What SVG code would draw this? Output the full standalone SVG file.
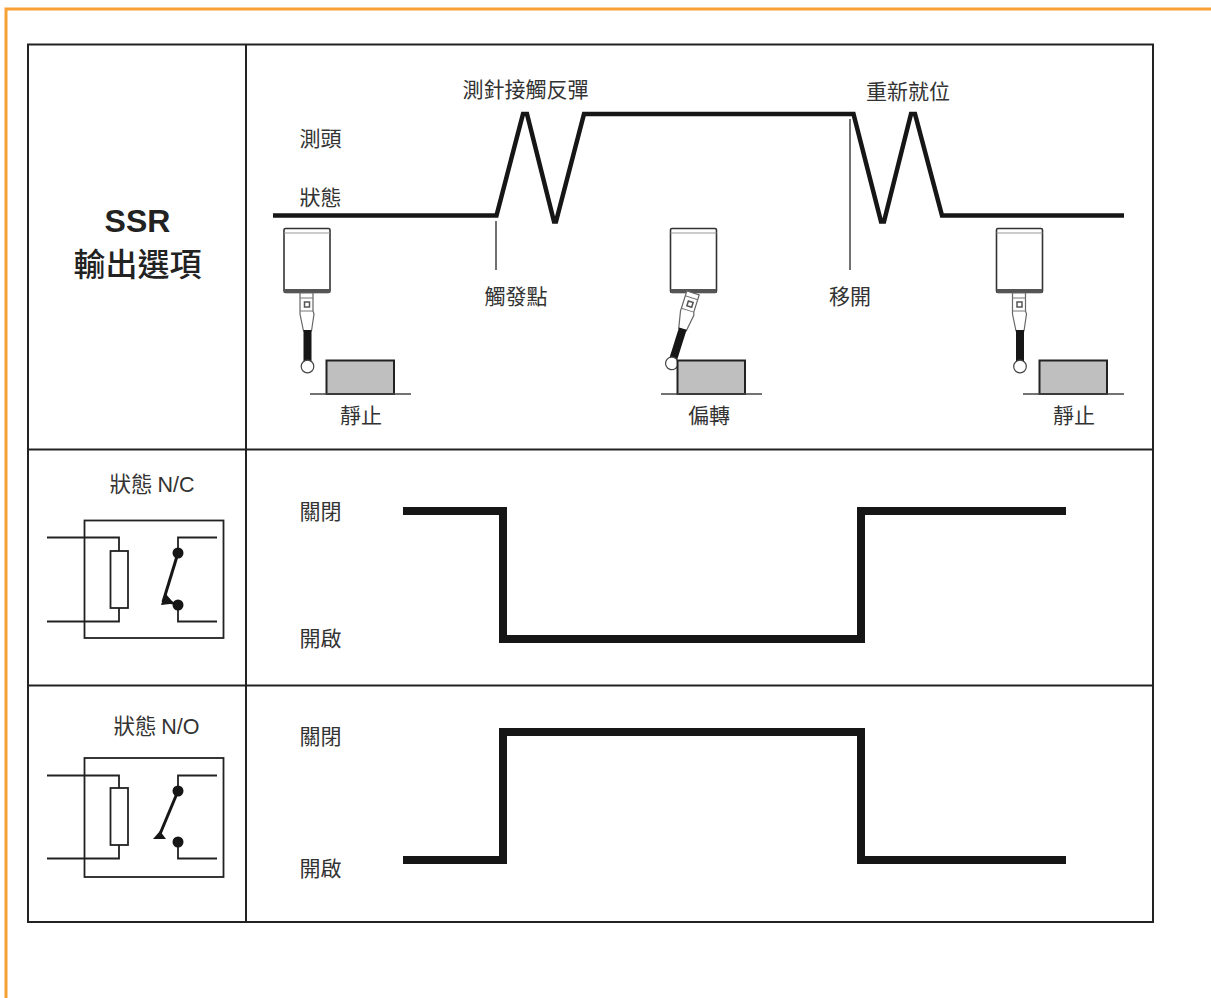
<svg xmlns="http://www.w3.org/2000/svg" width="1211" height="998" viewBox="0 0 1211 998">
<style>
text{font-family:"Noto Sans CJK TC","Liberation Sans",sans-serif;font-size:21px;fill:#333;text-anchor:middle}
.lat{font-family:"Liberation Sans","Noto Sans CJK TC",sans-serif}
.grid{fill:none;stroke:#222;stroke-width:2}
.wave{fill:none;stroke:#161616;stroke-linejoin:miter}
.thin{fill:none;stroke:#444;stroke-width:1.5}
.rel{fill:none;stroke:#222;stroke-width:1.8}
.dot{fill:#161616}
</style>
<defs>
<g id="probe">
<path d="M300 293H313V311L314 314L311.500 331H303.500L300 314V311Z" fill="#fff" stroke="#666" stroke-width="1.2"/>
<path d="M300 298H313M300 311H313" stroke="#777" stroke-width="1"/>
<rect x="304.500" y="302" width="5" height="5" fill="#fff" stroke="#555" stroke-width="1.500"/>
<rect x="303.500" y="330" width="8" height="32" fill="#161616"/>
<circle cx="307.500" cy="366.500" r="6.300" fill="#fff" stroke="#444" stroke-width="1.200"/>
</g>
<g id="body">
<rect x="284" y="228.500" width="46" height="64" rx="1.500" fill="#fff" stroke="#333" stroke-width="1.600"/>
<path d="M284 233H330" stroke="#999" stroke-width="1"/>
<rect x="284" y="289" width="46" height="4" fill="#555"/>
</g>
<g id="block">
<rect x="326.500" y="360.500" width="67.500" height="33.500" fill="#bfbfbf" stroke="#222" stroke-width="2"/>
<path d="M310 394H411" stroke="#444" stroke-width="1.500" fill="none"/>
</g>
</defs>
<rect width="1211" height="998" fill="#fff"/>
<path id="page-border" d="M6 998V9H1211" fill="none" stroke="#f7a033" stroke-width="3"/>
<g id="table">
<rect class="grid" x="28" y="44.500" width="1125" height="877.500"/>
<path class="grid" d="M246 44.500V922M28 449.500H1153M28 685.500H1153"/>
</g>
<g id="connectors">
<path class="wave" stroke-width="4.500" stroke-linejoin="round" d="M273 215.500H496.500L523 114H527L554 221.500H556L584 114H853.500L881 221.500H884L911 114H915L942 215.500H1124"/>
<path class="thin" d="M496 221V270M850 119V270"/>
<path class="wave" stroke-width="8" d="M403 511H503V639H861V511H1066"/>
<path class="wave" stroke-width="8" d="M403 860H503V732H861V860H1066"/>
</g>
<g id="title">
<text class="lat" x="137.500" y="232" style="font-size:32px;font-weight:700;fill:#222">SSR</text>
<text x="137.500" y="276" style="font-size:32px;font-weight:500;fill:#222">輸出選項</text>
</g>
<g id="labels-top">
<text x="320.500" y="146">測頭</text>
<text x="320.500" y="205">狀態</text>
<text x="525.500" y="97">測針接觸反彈</text>
<text x="908" y="99">重新就位</text>
<text x="516" y="304">觸發點</text>
<text x="850" y="304">移開</text>
</g>
<g id="probe-rest-1">
<use href="#body"/>
<use href="#probe"/>
<use href="#block"/>
<text x="361" y="423">靜止</text>
</g>
<g id="probe-deflected">
<use href="#body" x="386.500"/>
<g transform="translate(386.500 0) rotate(17.500 306.500 293)"><use href="#probe"/></g>
<use href="#block" x="351"/>
<text x="709" y="423">偏轉</text>
</g>
<g id="probe-rest-2">
<use href="#body" x="712.500"/>
<use href="#probe" x="712.500"/>
<use href="#block" x="713"/>
<text x="1074" y="423">靜止</text>
</g>
<g id="relay-nc">
<text x="152" y="492" style="font-size:21.500px">狀態 <tspan class="lat">N/C</tspan></text>
<rect class="rel" x="84.500" y="520.500" width="139" height="117.500"/>
<path class="rel" d="M47 537.500H119V551M119 608V621.500H47M217 537.500H178V553M178 605V621.500H217"/>
<rect class="rel" x="110.500" y="551" width="17.500" height="57" fill="#fff"/>
<path d="M178 553L163 602" stroke="#161616" stroke-width="3" fill="none"/>
<path class="dot" d="M161 605L165 593L172 601L178 605L170 604Z"/>
<circle class="dot" cx="178" cy="553" r="5.500"/>
<circle class="dot" cx="178" cy="605" r="5.500"/>
</g>
<g id="state-nc">
<text x="320.500" y="519">關閉</text>
<text x="320.500" y="646">開啟</text>
</g>
<g id="relay-no">
<text x="156.500" y="734" style="font-size:21.500px">狀態 <tspan class="lat">N/O</tspan></text>
<rect class="rel" x="84.500" y="758" width="139" height="119"/>
<path class="rel" d="M47 775.500H119V788M119 845V858.500H47M217 775.500H178V791M178 842V858.500H217"/>
<rect class="rel" x="110.500" y="788" width="17.500" height="57" fill="#fff"/>
<path d="M178 791L160 834" stroke="#161616" stroke-width="3" fill="none"/>
<path class="dot" d="M153 839L160 831L166 839Z"/>
<circle class="dot" cx="178" cy="791" r="5.500"/>
<circle class="dot" cx="178" cy="842" r="5.500"/>
</g>
<g id="state-no">
<text x="320.500" y="744">關閉</text>
<text x="320.500" y="876">開啟</text>
</g>
</svg>
